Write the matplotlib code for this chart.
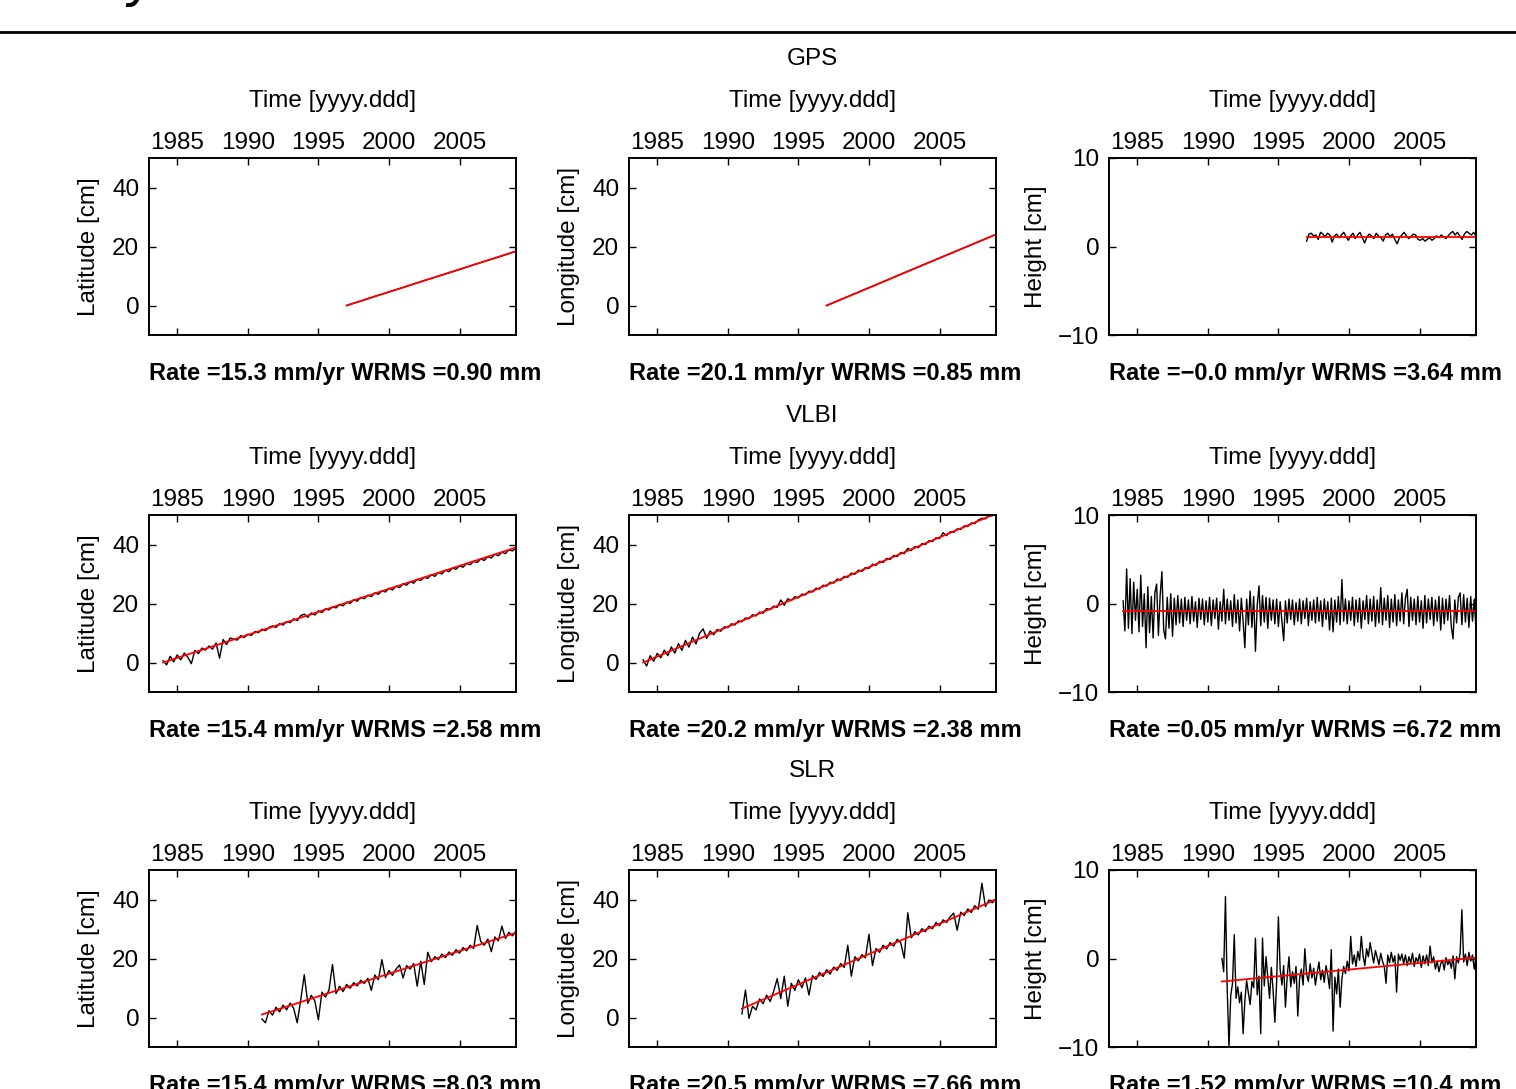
import matplotlib.pyplot as plt
import numpy as np
from matplotlib.lines import Line2D

# fonts
plt.rcParams['font.family'] = ['Liberation Sans', 'DejaVu Sans']
plt.rcParams['font.size'] = 17.5

# ---------------- data (cm) ----------------
# observation spans [start, end] in years
gps_span = [1997.0, 2009.0]
vlbi_span = [1984.0, 2009.0]
slr_span = [1991.0, 2009.0]

# GPS
gps_lat = [0.0, 1.5, 3.1, 4.6, 6.1, 7.7, 9.2, 10.7, 12.2, 13.8, 15.3, 16.8, 18.4]
gps_lon = [0.0, 2.0, 4.0, 6.0, 8.0, 10.1, 12.1, 14.1, 16.1, 18.1, 20.1, 22.1, 24.1]
gps_hgt = [0.6, 1.4, 1.5, 1.2, 1.3, 0.8, 1.6, 1.4, 1.1, 1.5, 1.3, 0.5, 1.2, 1.4, 1.0,
           1.3, 1.6, 1.1, 0.7, 1.2, 1.5, 0.9, 1.3, 1.6, 1.0, 0.4, 1.1, 1.4, 1.2, 0.9,
           1.5, 1.2, 1.0, 0.6, 1.3, 1.5, 1.1, 1.4, 0.8, 0.3, 1.0, 1.3, 1.6, 1.2, 0.9,
           1.1, 1.4, 1.3, 0.8, 0.7, 0.9, 0.6, 0.8, 1.0, 0.7, 0.9, 1.2, 1.0, 1.3, 1.1,
           0.9, 1.2, 1.5, 1.7, 1.3, 1.6, 1.2, 0.8, 1.4, 1.7, 1.5, 1.3, 1.6, 1.2]

# VLBI
vlbi_lat = [0.6, -0.8, 2.1, 0.2, 2.6, 0.9, 3.2, 1.8, -0.4, 4.1, 3.0, 4.9, 4.2, 5.6, 4.5,
            6.6, 1.5, 7.8, 6.1, 8.3, 7.9, 7.6, 9.1, 8.5, 9.6, 9.2, 10.5, 10.1, 11.3, 10.8,
            11.9, 12.4, 11.9, 13.2, 12.7, 13.9, 13.5, 14.8, 14.2, 15.9, 16.4, 15.3, 16.8, 16.1, 17.5,
            16.9, 18.2, 17.8, 18.9, 18.5, 19.7, 19.2, 20.5, 20.0, 21.3, 20.8, 22.1, 21.6, 22.8, 22.3,
            23.6, 23.1, 24.3, 23.9, 25.2, 24.6, 25.9, 25.4, 26.7, 26.2, 27.4, 26.9, 28.2, 27.8, 28.9,
            28.5, 29.8, 29.2, 30.5, 30.0, 31.3, 30.8, 32.0, 31.6, 32.8, 32.3, 33.6, 33.1, 34.3, 33.9,
            35.1, 34.6, 35.9, 35.4, 36.7, 36.2, 37.4, 36.9, 38.2, 37.8, 38.9]
vlbi_lon = [0.9, -1.2, 2.3, 0.4, 3.1, 1.6, 4.2, 2.3, 5.3, 3.2, 6.4, 4.1, 7.5, 5.2, 8.6,
            6.3, 9.9, 11.4, 8.2, 10.7, 9.4, 11.2, 10.6, 12.1, 11.8, 13.1, 12.7, 14.1, 13.8, 15.1,
            14.8, 16.2, 15.8, 17.1, 16.7, 18.3, 17.9, 19.1, 18.7, 21.2, 19.4, 21.6, 21.0, 22.3, 21.9,
            23.2, 22.9, 24.2, 23.9, 25.2, 24.9, 26.2, 25.9, 27.2, 26.9, 28.3, 27.9, 29.2, 28.9, 30.3,
            29.9, 31.3, 30.9, 32.2, 31.9, 33.3, 32.9, 34.3, 33.9, 35.3, 34.9, 36.3, 35.9, 37.3, 36.9,
            38.7, 38.0, 39.3, 38.9, 40.3, 40.0, 41.3, 41.0, 42.3, 42.0, 44.0, 43.0, 44.3, 44.1, 45.3,
            45.1, 46.3, 46.1, 47.3, 47.1, 48.3, 48.9, 48.7, 49.8, 49.7, 50.8]
vlbi_hgt = [0.3, -3.1, 3.9, -2.8, 2.8, -3.4, 2.4, -1.9, 1.6, -3.2, 3.2, -2.6, 1.1, -5.0, 1.9,
            -3.3, 0.8, -3.9, 1.2, 2.2, -3.6, 0.9, 3.6, -3.0, -4.0, 0.7, -2.8, 1.1, -3.7, 0.6,
            -2.4, 0.9, -2.2, 0.5, -2.6, 0.7, -1.9, 0.4, -2.3, 0.8, -2.0, 0.2, -2.7, 0.6, -1.8,
            0.5, -2.4, 0.3, -2.1, 0.7, -2.5, 0.4, -1.7, 0.6, -2.9, 0.2, -2.0, 1.6, -2.3, 0.5,
            -1.9, 0.3, -2.6, 1.0, -2.2, 0.4, -3.1, 0.6, -2.0, -5.0, 0.5, -2.4, 1.4, -2.7, 0.8,
            -5.4, -0.2, 2.0, -2.5, 0.9, -2.1, 0.7, -2.8, 0.6, -1.9, 0.4, -2.3, 0.5, -2.6, 0.2,
            -2.0, -4.2, 0.3, -2.2, 0.5, -1.8, 0.4, -2.4, 0.1, -2.0, 0.5, -2.3, 0.3, -1.7, 0.6,
            -2.5, 0.2, -1.9, 0.4, -2.2, 0.7, -2.0, 0.3, -2.6, 0.5, -1.8, 0.2, -3.0, 0.6, -3.2,
            0.4, -2.1, 0.8, -2.4, 2.7, -2.0, 0.5, -2.3, 0.3, -1.9, 0.7, -2.5, 0.4, -2.1, 0.6,
            -2.8, 0.3, -1.8, 0.9, -2.3, 0.5, -2.0, 0.8, -2.6, 0.4, -2.2, 1.8, -2.4, 0.6, -1.9,
            0.9, -2.7, 0.5, -2.1, 1.0, -2.5, 0.4, -2.0, 1.2, -2.3, 0.6, 1.6, -2.6, 0.7, -1.9,
            0.5, -2.4, 0.8, -2.1, 0.3, -2.8, 0.9, -2.2, 0.5, -1.8, 0.7, -2.5, 0.4, -2.0, 0.8,
            -3.0, 0.6, -2.3, 0.5, -1.9, 0.9, -2.6, -4.0, 0.4, -2.2, 0.7, 1.2, -2.4, 1.0, -2.1,
            0.6, -2.7, 0.8, -2.0, 0.5, -3.0]

# SLR
slr_lat = [-0.5, -1.8, 2.3, 0.8, 3.5, 1.9, 4.2, 2.6, 4.9, 3.1, -1.8, 6.0, 14.5, 4.8, 7.5,
           5.6, -0.8, 8.6, 6.9, 9.3, 18.0, 8.1, 10.6, 8.8, 11.2, 9.9, 11.8, 10.7, 12.6, 11.5,
           13.3, 9.2, 14.4, 12.8, 19.6, 13.5, 15.9, 14.3, 16.4, 17.8, 13.4, 17.6, 16.4, 18.3, 10.6,
           19.1, 11.2, 22.1, 18.9, 20.6, 19.6, 21.5, 20.3, 22.2, 21.1, 23.0, 21.8, 23.7, 22.6, 24.5,
           23.4, 31.2, 25.8, 24.5, 26.6, 22.3, 27.3, 26.0, 31.0, 26.8, 28.9, 27.7, 29.3]
slr_lon = [1.2, 9.3, -0.3, 3.8, 2.6, 6.3, 4.7, 7.6, 5.4, 8.9, 13.2, 6.4, 14.0, 3.8, 11.6,
           9.2, 12.8, 10.1, 13.4, 7.6, 14.2, 12.9, 15.3, 13.9, 16.2, 14.7, 17.1, 16.0, 18.3, 17.0,
           24.5, 14.0, 20.6, 19.2, 21.3, 20.2, 28.2, 17.6, 23.4, 22.1, 24.5, 23.2, 25.4, 24.2, 26.5,
           25.3, 20.1, 35.5, 27.0, 29.1, 28.0, 30.1, 29.1, 31.0, 30.1, 32.2, 31.1, 33.1, 32.2, 34.1,
           35.4, 29.6, 35.7, 34.6, 36.8, 35.6, 37.9, 36.7, 45.5, 37.6, 39.8, 38.9, 40.4]
slr_hgt = [0.0, -1.5, 7.0, -3.5, -10.0, -4.2, -2.8, 2.7, -4.5, -3.2, -5.0, -3.8, -8.5, -4.8, -2.5,
           -3.9, -5.2, -2.6, -3.3, 2.3, -4.1, -2.0, -8.5, 2.3, -3.1, 0.2, -2.2, -4.5, -1.0, -3.6,
           -7.2, -2.7, 4.7, -1.2, -3.0, -0.8, -5.5, -2.0, 0.2, -3.2, -1.5, -2.8, -0.9, -6.5, -2.3,
           -1.2, -3.0, 1.1, -1.8, -2.6, -0.6, -2.2, -1.1, -3.0, -1.6, -0.4, -2.4, -1.3, -2.7, -0.8,
           -1.9, -3.4, 1.0, -8.2, -2.1, -4.0, -1.2, -5.5, -2.3, -0.9, -1.7, -0.3, -1.4, 2.5, -0.6,
           0.4, -0.9, 0.8, -0.2, 2.5, 0.3, -0.8, 1.1, 0.2, 1.8, 0.6, -0.5, 0.9, 0.1, -0.7,
           0.6, -0.3, -0.9, -2.8, 0.4, -0.5, 0.7, -0.4, 0.3, -3.8, 0.5, -0.2, 0.5, -0.6, 0.4,
           -0.8, 0.2, -0.5, 0.6, -0.9, 0.1, -0.4, 0.5, -1.0, 0.3, -0.6, 0.4, -0.8, 1.4, -0.5,
           0.2, -1.2, -0.3, -1.5, -0.6, -0.2, -1.3, 0.1, -0.7, -0.2, -1.1, 0.3, -2.3, 0.2, -0.5,
           0.6, 5.5, -0.4, 0.5, -0.8, 0.7, -0.3, 0.4, -1.2, 0.3]

# fitted trend lines [value at start, value at end]
gps_fit = [[0.0, 18.4], [0.0, 24.1], [1.1, 1.1]]
vlbi_fit = [[0.0, 39.0], [0.0, 50.5], [-0.9, -0.9]]
slr_fit = [[1.0, 28.7], [3.0, 40.0], [-2.6, 0.1]]

gps_rates = ['Rate =15.3 mm/yr WRMS =0.90 mm', 'Rate =20.1 mm/yr WRMS =0.85 mm',
             'Rate =\u22120.0 mm/yr WRMS =3.64 mm']
vlbi_rates = ['Rate =15.4 mm/yr WRMS =2.58 mm', 'Rate =20.2 mm/yr WRMS =2.38 mm',
              'Rate =0.05 mm/yr WRMS =6.72 mm']
slr_rates = ['Rate =15.4 mm/yr WRMS =8.03 mm', 'Rate =20.5 mm/yr WRMS =7.66 mm',
             'Rate =1.52 mm/yr WRMS =10.4 mm']

techniques = ['GPS', 'VLBI', 'SLR']
components = ['Latitude [cm]', 'Longitude [cm]', 'Height [cm]']
year_ticks = [1985, 1990, 1995, 2000, 2005]

series = [[gps_lat, gps_lon, gps_hgt], [vlbi_lat, vlbi_lon, vlbi_hgt], [slr_lat, slr_lon, slr_hgt]]
fits = [gps_fit, vlbi_fit, slr_fit]
spans = [gps_span, vlbi_span, slr_span]
rates = [gps_rates, vlbi_rates, slr_rates]

# ---------------- figure ----------------
W, H = 1516, 1089
fig = plt.figure(figsize=(W / 100, H / 100), dpi=100)

# page decoration: rule and tail of a heading letter
fig.add_artist(Line2D([0, 1], [1 - 32 / H, 1 - 32 / H], color='black', lw=2.0))
fig.text(126 / W, 1 + 4 / H, 'y', fontsize=38, style='italic',
         family='DejaVu Sans', va='baseline', ha='left')

col_left = [149, 629, 1109]
row_top = [158, 515, 870]
ax_w, ax_h = 367, 177

for r in range(3):
    for c in range(3):
        ax = fig.add_axes([col_left[c] / W, 1 - (row_top[r] + ax_h) / H, ax_w / W, ax_h / H])
        y = np.array(series[r][c])
        t = np.linspace(spans[r][0], spans[r][1], len(y))
        ax.plot(t, y, color='black', lw=1.0)
        ax.plot(spans[r], fits[r][c], color='red', lw=1.3)

        ax.set_xlim(1983, 2009)
        ax.set_xticks(year_ticks)
        if c < 2:
            ax.set_ylim(-10, 50)
            ax.set_yticks([0, 20, 40])
        else:
            ax.set_ylim(-10, 10)
            ax.set_yticks([-10, 0, 10])

        ax.tick_params(direction='in', top=True, right=True, labeltop=True,
                       labelbottom=False, length=5, width=1.0)
        ax.tick_params(axis='x', pad=3)
        ax.tick_params(axis='y', pad=7)
        for s in ax.spines.values():
            s.set_linewidth(1.4)

        ax.xaxis.set_label_position('top')
        ax.set_xlabel('Time [yyyy.ddd]', labelpad=18)
        ax.set_ylabel(components[c])
        if c < 2:
            ax.yaxis.set_label_coords(-0.134, 0.5)
        else:
            ax.yaxis.set_label_coords(-0.169, 0.5)

        ax.text(0, -0.22, rates[r][c], transform=ax.transAxes, ha='left', va='center',
                fontweight='bold', fontsize=17)
        if c == 1:
            ax.text(0.5, 1.56, techniques[r], transform=ax.transAxes, ha='center', va='center')

fig.savefig('out.png', dpi=100)
